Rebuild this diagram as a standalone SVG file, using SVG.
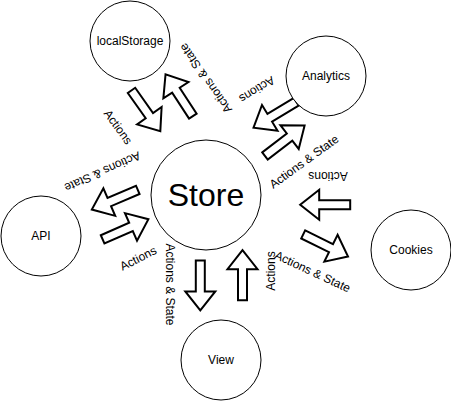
<svg xmlns="http://www.w3.org/2000/svg" width="451" height="401" viewBox="0 0 451 401">
<style>
.node{fill:#fff;stroke:#000;stroke-width:1}
.lbl{font-family:"Liberation Sans",Arial,sans-serif;font-size:12px;fill:#000;text-anchor:middle}
.big{font-family:"Liberation Sans",Arial,sans-serif;font-size:32px;fill:#000;text-anchor:middle}
.arr{fill:#fff;stroke:#000;stroke-width:2;stroke-linejoin:miter}
</style>
<defs>
<path id="arrow" d="M-25,-4.5 L6,-4.5 L6,-15 L25,0 L6,15 L6,4.5 L-25,4.5 Z"/>
</defs>
<rect width="451" height="401" fill="#fff"/>
<g id="connectors">
<use href="#arrow" class="arr" transform="translate(145.9,110.8) rotate(54.8)"/>
<use href="#arrow" class="arr" transform="translate(179.2,95.2) rotate(-123.1)"/>
<use href="#arrow" class="arr" transform="translate(274.9,114.7) rotate(148.8)"/>
<use href="#arrow" class="arr" transform="translate(284.8,140.7) rotate(-37.6)"/>
<use href="#arrow" class="arr" transform="translate(114.8,199.7) rotate(156.8)"/>
<use href="#arrow" class="arr" transform="translate(125.5,229.3) rotate(-23.7)"/>
<use href="#arrow" class="arr" transform="translate(325.2,204.8) rotate(180)"/>
<use href="#arrow" class="arr" transform="translate(325.6,245.5) rotate(26.3)"/>
<use href="#arrow" class="arr" transform="translate(200.3,285.4) rotate(90)"/>
<use href="#arrow" class="arr" transform="translate(242.5,275.2) rotate(-90)"/>
<text class="lbl" transform="translate(118,127) rotate(54)" y="4">Actions</text>
<text class="lbl" transform="translate(205.8,78.3) rotate(-125)" y="4">Actions &amp; State</text>
<text class="lbl" transform="translate(257,89.5) rotate(148)" y="4">Actions</text>
<text class="lbl" transform="translate(304,161.7) rotate(-36)" y="4">Actions &amp; State</text>
<text class="lbl" transform="translate(102.5,171.7) rotate(156)" y="4">Actions &amp; State</text>
<text class="lbl" transform="translate(138.3,258.3) rotate(-27)" y="4">Actions</text>
<text class="lbl" transform="translate(328,176) rotate(180)" y="4">Actions</text>
<text class="lbl" transform="translate(312.5,271.7) rotate(25)" y="4">Actions &amp; State</text>
<text class="lbl" transform="translate(170,284.5) rotate(90)" y="4">Actions &amp; State</text>
<text class="lbl" transform="translate(270.5,271) rotate(-90)" y="4">Actions</text>
</g>
<g id="store">
<circle class="node" cx="206" cy="195" r="55"/>
<text class="big" x="206" y="206">Store</text>
</g>
<g id="localStorage">
<circle class="node" cx="130" cy="41" r="40"/>
<text class="lbl" x="130" y="45">localStorage</text>
</g>
<g id="analytics">
<circle class="node" cx="326" cy="76" r="40"/>
<text class="lbl" x="326" y="80">Analytics</text>
</g>
<g id="api">
<circle class="node" cx="41" cy="236" r="40"/>
<text class="lbl" x="41" y="240">API</text>
</g>
<g id="cookies">
<circle class="node" cx="411" cy="250" r="40"/>
<text class="lbl" x="411" y="254">Cookies</text>
</g>
<g id="view">
<circle class="node" cx="221" cy="360" r="40"/>
<text class="lbl" x="221" y="364">View</text>
</g>
</svg>
